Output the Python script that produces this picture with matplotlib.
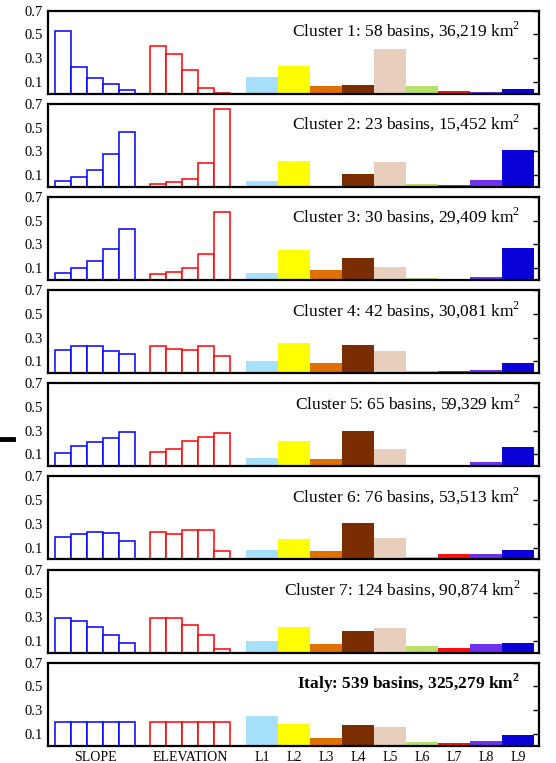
import matplotlib
matplotlib.use("Agg")
import matplotlib.pyplot as plt
from matplotlib.lines import Line2D
import numpy as np

plt.rcParams['font.family'] = ['Liberation Serif', 'DejaVu Serif']
plt.rcParams['mathtext.fontset'] = 'custom'
plt.rcParams['mathtext.rm'] = 'Liberation Serif'
plt.rcParams['mathtext.bf'] = 'Liberation Serif:bold'

titles = [
    "Cluster 1: 58 basins, 36,219 km$^2$",
    "Cluster 2: 23 basins, 15,452 km$^2$",
    "Cluster 3: 30 basins, 29,409 km$^2$",
    "Cluster 4: 42 basins, 30,081 km$^2$",
    "Cluster 5: 65 basins, 59,329 km$^2$",
    "Cluster 6: 76 basins, 53,513 km$^2$",
    "Cluster 7: 124 basins, 90,874 km$^2$",
    "Italy: 539 basins, 325,279 km$^\\mathbf{2}$",
]

slope = [
    [0.527, 0.225, 0.132, 0.079, 0.028],
    [0.048, 0.082, 0.138, 0.273, 0.459],
    [0.058, 0.097, 0.162, 0.263, 0.427],
    [0.196, 0.233, 0.230, 0.185, 0.165],
    [0.111, 0.168, 0.207, 0.235, 0.286],
    [0.192, 0.212, 0.231, 0.226, 0.153],
    [0.292, 0.267, 0.220, 0.152, 0.077],
    [0.200, 0.200, 0.200, 0.200, 0.200],
]

elevation = [
    [0.400, 0.338, 0.203, 0.051, 0.005],
    [0.028, 0.042, 0.070, 0.197, 0.659],
    [0.052, 0.066, 0.097, 0.218, 0.573],
    [0.227, 0.207, 0.196, 0.232, 0.148],
    [0.117, 0.145, 0.215, 0.249, 0.277],
    [0.229, 0.215, 0.245, 0.251, 0.075],
    [0.292, 0.295, 0.234, 0.152, 0.032],
    [0.200, 0.200, 0.200, 0.200, 0.200],
]

lith_labels = ["L1", "L2", "L3", "L4", "L5", "L6", "L7", "L8", "L9"]
lithology = [
    [0.138, 0.231, 0.062, 0.070, 0.375, 0.062, 0.023, 0.011, 0.037],
    [0.048, 0.217, 0.006, 0.107, 0.208, 0.023, 0.017, 0.056, 0.310],
    [0.058, 0.252, 0.083, 0.184, 0.108, 0.015, 0.007, 0.024, 0.269],
    [0.103, 0.255, 0.086, 0.238, 0.187, 0.018, 0.018, 0.027, 0.086],
    [0.069, 0.213, 0.061, 0.297, 0.145, 0.002, 0.010, 0.038, 0.162],
    [0.080, 0.173, 0.072, 0.307, 0.181, 0.019, 0.047, 0.047, 0.080],
    [0.097, 0.214, 0.071, 0.180, 0.206, 0.055, 0.038, 0.071, 0.080],
    [0.248, 0.181, 0.063, 0.172, 0.155, 0.029, 0.021, 0.038, 0.088],
]
lith_colors = ["#a6e0fa", "#ffff00", "#e07000", "#7a2e00", "#e8cfbd",
               "#b8e068", "#ff1010", "#7030f0", "#0a00d8"]

group_labels = ["SLOPE", "ELEVATION"]

fig = plt.figure(figsize=(5.56, 7.63), dpi=100)
n = len(titles)
left, right = 48/556, 539/556
top_px0, step, h = 10.7, 93.15, 83.0

slope_x = 0.44 + 0.5 + np.arange(5)
elev_x = 6.375 + 0.5 + np.arange(5)
lith_x = 12.375 + 1.0 + 2.0*np.arange(9)

for i in range(n):
    top_px = top_px0 + i*step
    ax = fig.add_axes([left, 1 - (top_px + h)/763, right - left, h/763])
    ax.bar(slope_x, slope[i], width=1.0, facecolor='white', edgecolor='#0000ff', linewidth=1.1)
    ax.bar(elev_x, elevation[i], width=1.0, facecolor='white', edgecolor='#ff0000', linewidth=1.1)
    ax.bar(lith_x, lithology[i], width=2.0, color=lith_colors, linewidth=0)
    ax.set_xlim(0, 30.7)
    ax.set_ylim(0, 0.7)
    ax.set_yticks([0.1, 0.3, 0.5, 0.7])
    ax.set_yticklabels(["0.1", "0.3", "0.5", "0.7"], fontsize=10.5)
    ax.tick_params(axis='y', left=False, right=True, direction='in', length=4, width=1, pad=4)
    for s in ax.spines.values():
        s.set_linewidth(1.6)
    weight = 'bold' if i == n - 1 else 'normal'
    ax.text(0.962, 0.69, titles[i], transform=ax.transAxes, ha='right', va='baseline',
            fontsize=12.5, fontweight=weight)
    if i == n - 1:
        ticks = [slope_x.mean(), elev_x.mean()] + list(lith_x)
        ax.set_xticks(ticks)
        ax.set_xticklabels(group_labels + lith_labels, fontsize=10)
        ax.tick_params(axis='x', length=0, pad=4)
    else:
        ax.set_xticks([])

fig.add_artist(Line2D([0, 13/556], [1 - 439/763, 1 - 439/763], color='black', linewidth=3.5))

fig.savefig("out.png", dpi=100)
